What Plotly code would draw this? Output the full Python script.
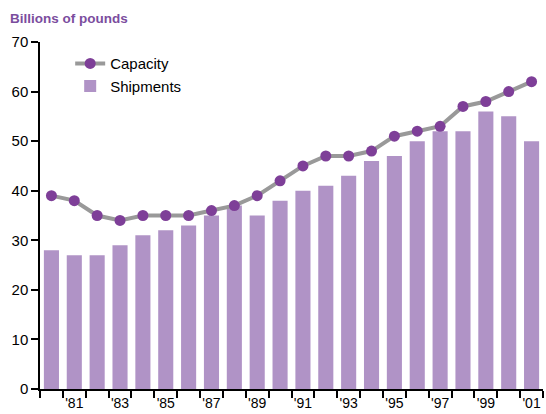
import plotly.graph_objects as go

years = list(range(1980, 2002))
capacity = [39, 38, 35, 34, 35, 35, 35, 36, 37, 39, 42, 45, 47, 47, 48, 51, 52, 53, 57, 58, 60, 62]
shipments = [28, 27, 27, 29, 31, 32, 33, 35, 37, 35, 38, 40, 41, 43, 46, 47, 50, 52, 52, 56, 55, 50]
label_years = list(range(1981, 2002, 2))
label_text = ["'" + str(y)[2:] for y in label_years]
boundaries = [y + 0.5 for y in range(1979, 2002)]

fig = go.Figure()
fig.add_trace(go.Bar(x=years, y=shipments, name="Shipments",
                     marker=dict(color="#B093C6", line=dict(width=0)), width=0.66))
fig.add_trace(go.Scatter(x=years, y=capacity, name="Capacity", mode="lines+markers",
                         line=dict(color="#999999", width=4),
                         marker=dict(color="#7E3F98", size=11)))

fig.update_layout(
    width=546, height=414,
    margin=dict(l=40, r=3, t=42, b=18),
    plot_bgcolor="white", paper_bgcolor="white",
    font=dict(family="Liberation Sans, Arial, sans-serif", size=15, color="black"),
    showlegend=True,
    legend=dict(x=0.06, y=0.985, xanchor="left", yanchor="top", bgcolor="rgba(0,0,0,0)",
                font=dict(size=15), traceorder="reversed", itemwidth=30, tracegroupgap=3),
    bargap=0.3,
    annotations=[dict(text="<b>Billions of pounds</b>", xref="paper", yref="paper",
                      x=-32/503, y=1 + 24/354, xanchor="left", yanchor="middle",
                      showarrow=False,
                      font=dict(family="Liberation Sans, Arial, sans-serif",
                                size=13.5, color="#7B4D9E"))],
)
fig.update_yaxes(range=[0, 70], dtick=10, showgrid=False, zeroline=False,
                 showline=True, linecolor="black", linewidth=1.5,
                 ticks="outside", ticklen=7, tickcolor="black", tickwidth=1.5,
                 tickfont=dict(size=15))
fig.update_xaxes(range=[1979.5, 2001.5], tickvals=label_years, ticktext=label_text,
                 ticks="outside", ticklen=0, showgrid=False, zeroline=False,
                 showline=True, linecolor="black", linewidth=1.5,
                 tickfont=dict(size=14),
                 minor=dict(tickvals=boundaries, ticks="outside", ticklen=7,
                            tickcolor="black", tickwidth=1.5, showgrid=False))

fig.write_html("out.html", config={"displayModeBar": False},
               post_script="document.body.style.margin='0';document.body.style.overflow='hidden';")
